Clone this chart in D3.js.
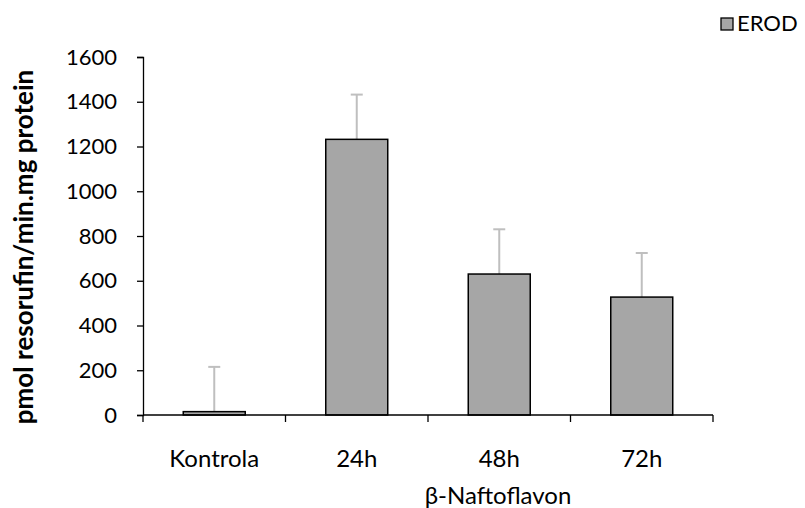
<!DOCTYPE html>
<html>
<head>
<meta charset="utf-8">
<script src="https://cdn.jsdelivr.net/npm/d3@7"></script>
<style>
  body { margin: 0; background: #fff; }
  text { font-family: Lato, 'Open Sans', sans-serif; fill: #000; }
</style>
</head>
<body>
<div id="chart"></div>
<script>
const categories = ['Kontrola', '24h', '48h', '72h']
const values = [15, 1232, 630, 527]
const errors = [200, 200, 200, 197]
const yTicks = [0, 200, 400, 600, 800, 1000, 1200, 1400, 1600]

const margin = { top: 57, right: 92, bottom: 93, left: 143 }
const width = 805 - margin.left - margin.right
const height = 508 - margin.top - margin.bottom

const svg = d3
  .select('#chart')
  .append('svg')
  .attr('width', 805)
  .attr('height', 508)

const g = svg
  .append('g')
  .attr('transform', 'translate(' + margin.left + ',' + margin.top + ')')

const xScale = d3
  .scaleBand()
  .domain(categories)
  .range([0, width])
  .paddingInner(0.565)
  .paddingOuter(0.2825)

const yScale = d3
  .scaleLinear()
  .domain([0, 1600])
  .range([height, 0])

// error bars, upward only, drawn behind the bars
const errG = g.append('g')
categories.forEach((c, i) => {
  const cx = xScale(c) + xScale.bandwidth() / 2
  const top = yScale(values[i] + errors[i])
  errG.append('line')
    .attr('x1', cx).attr('x2', cx)
    .attr('y1', yScale(values[i])).attr('y2', top)
    .attr('stroke', '#bfbfbf').attr('stroke-width', 2)
  errG.append('line')
    .attr('x1', cx - 6).attr('x2', cx + 6)
    .attr('y1', top).attr('y2', top)
    .attr('stroke', '#bfbfbf').attr('stroke-width', 2)
})

// bars
g.selectAll('rect.bar')
  .data(values)
  .enter()
  .append('rect')
  .attr('class', 'bar')
  .attr('x', (d, i) => xScale(categories[i]))
  .attr('y', d => yScale(d))
  .attr('width', xScale.bandwidth())
  .attr('height', d => height - yScale(d))
  .attr('fill', '#a6a6a6')
  .attr('stroke', '#000')
  .attr('stroke-width', 1.5)

// y axis
const yAxis = d3
  .axisLeft(yScale)
  .tickValues(yTicks)
  .tickFormat(d3.format('d'))
  .tickSize(6)
  .tickPadding(20)
const yG = g.append('g').call(yAxis)
yG.selectAll('text').style('font-size', '22px')
yG.selectAll('line, path').attr('stroke', '#000').attr('stroke-width', 1.3)

// x axis, ticks on the category boundaries
const xLine = d3.scaleLinear().domain([0, categories.length]).range([0, width])
const xG = g.append('g').attr('transform', 'translate(0,' + height + ')')
xG.append('line')
  .attr('x1', 0).attr('x2', width)
  .attr('stroke', '#000').attr('stroke-width', 1.3)
xG.selectAll('line.tick')
  .data(d3.range(categories.length + 1))
  .enter()
  .append('line')
  .attr('class', 'tick')
  .attr('x1', d => xLine(d)).attr('x2', d => xLine(d))
  .attr('y1', 0).attr('y2', 7)
  .attr('stroke', '#000').attr('stroke-width', 1.3)
xG.selectAll('text.cat')
  .data(categories)
  .enter()
  .append('text')
  .attr('class', 'cat')
  .attr('x', d => xScale(d) + xScale.bandwidth() / 2)
  .attr('y', 52)
  .attr('text-anchor', 'middle')
  .style('font-size', '24px')
  .text(d => d)

// axis titles
svg.append('text')
  .attr('x', 498)
  .attr('y', 504)
  .attr('text-anchor', 'middle')
  .style('font-size', '24px')
  .text('β-Naftoflavon')

svg.append('text')
  .attr('transform', 'translate(33,247) rotate(-90)')
  .attr('text-anchor', 'middle')
  .style('font-size', '26px')
  .style('font-weight', 'bold')
  .text('pmol resorufin/min.mg protein')

// legend
svg.append('rect')
  .attr('x', 721).attr('y', 18)
  .attr('width', 12).attr('height', 12)
  .attr('fill', '#a6a6a6').attr('stroke', '#000').attr('stroke-width', 1.3)
svg.append('text')
  .attr('x', 737).attr('y', 31)
  .style('font-size', '22px')
  .text('EROD')
</script>
</body>
</html>
